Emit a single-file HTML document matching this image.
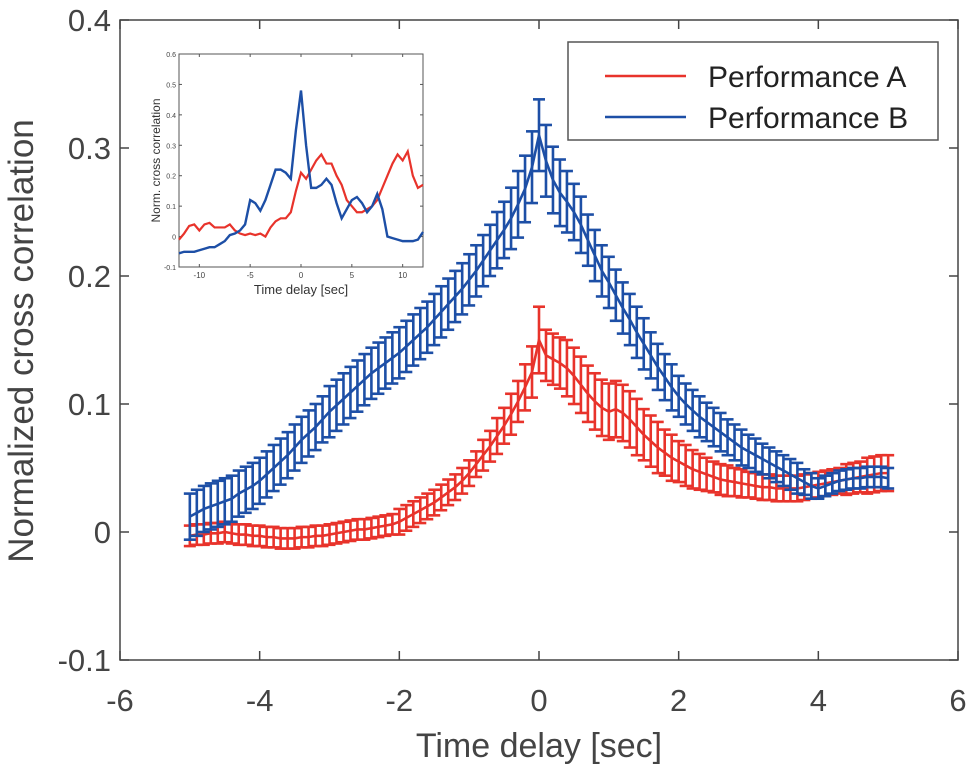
<!DOCTYPE html>
<html><head><meta charset="utf-8"><style>
html,body{margin:0;padding:0;background:#fff;}
svg{display:block;font-family:"Liberation Sans",sans-serif;}
</style></head><body>
<svg id="chart" width="974" height="773" viewBox="0 0 974 773" xmlns="http://www.w3.org/2000/svg"></svg>
<script>
const xTicks=[-6,-4,-2,0,2,4,6];
const yTicks=[-0.1,0,0.1,0.2,0.3,0.4];
const yTickLabels=["-0.1","0","0.1","0.2","0.3","0.4"];
const xStart=-5, xStep=0.1;
const blueMean=[.012,.015,.018,.020,.022,.024,.026,.030,.033,.036,
.040,.045,.050,.055,.060,.066,.072,.077,.082,.088,
.094,.099,.104,.109,.114,.119,.124,.128,.132,.136,
.140,.145,.150,.155,.160,.166,.172,.178,.184,.190,
.197,.204,.212,.220,.228,.236,.245,.256,.268,.285,
.310,.290,.275,.265,.258,.250,.240,.228,.216,.204,
.195,.185,.175,.166,.156,.147,.138,.129,.121,.113,
.106,.100,.095,.090,.086,.082,.078,.074,.070,.066,
.063,.060,.057,.054,.051,.048,.045,.042,.039,.036,
.034,.036,.038,.040,.041,.042,.042,.043,.043,.043,.042];
const blueErr=[.018,.018,.018,.018,.018,.018,.018,.018,.018,.018,
.018,.018,.018,.018,.018,.018,.018,.018,.018,.018,
.02,.02,.02,.02,.02,.02,.02,.02,.02,.02,
.02,.02,.02,.02,.02,.02,.02,.02,.02,.02,
.02,.02,.02,.02,.022,.022,.024,.026,.026,.028,
.028,.028,.026,.026,.024,.022,.022,.02,.02,.02,
.02,.02,.02,.02,.02,.02,.018,.018,.018,.018,
.016,.016,.016,.016,.015,.015,.015,.014,.014,.014,
.013,.013,.012,.012,.012,.012,.012,.012,.01,.01,
.008,.008,.008,.008,.008,.008,.008,.008,.008,.008,.008];
const redMean=[-.003,-.002,-.002,-.001,-.001,0,-.001,-.002,-.002,-.003,
-.003,-.004,-.004,-.005,-.005,-.005,-.004,-.004,-.003,-.003,
-.002,-.001,0,.001,.002,.002,.003,.004,.005,.006,
.008,.011,.014,.017,.020,.023,.027,.031,.035,.040,
.046,.053,.060,.067,.075,.083,.092,.102,.113,.125,
.150,.138,.135,.132,.128,.122,.115,.108,.102,.097,
.094,.096,.093,.088,.082,.076,.071,.066,.062,.058,
.055,.052,.049,.047,.045,.043,.041,.040,.039,.038,
.037,.036,.035,.035,.034,.034,.034,.034,.035,.036,
.037,.038,.039,.040,.041,.042,.043,.044,.045,.046,.046];
const redErr=[.008,.008,.008,.008,.008,.008,.008,.008,.008,.008,
.008,.008,.008,.008,.008,.008,.008,.008,.008,.008,
.008,.008,.008,.008,.008,.008,.008,.008,.008,.008,
.01,.01,.01,.01,.01,.01,.01,.01,.01,.01,
.01,.01,.012,.012,.014,.014,.016,.016,.018,.02,
.026,.02,.02,.02,.022,.022,.022,.022,.022,.022,
.022,.022,.022,.022,.022,.02,.02,.02,.018,.018,
.016,.016,.015,.014,.013,.012,.012,.012,.011,.011,
.01,.01,.01,.01,.01,.01,.01,.01,.01,.01,
.01,.01,.01,.01,.012,.012,.012,.014,.014,.014,.014];
const insetXTicks=[-10,-5,0,5,10];
const insetYTicks=[-0.1,0,0.1,0.2,0.3,0.4,0.5,0.6];
const insetStart=-12, insetStep=0.5;
const insetBlue=[-0.055,-0.05,-0.05,-0.05,-0.045,-0.04,-0.035,-0.035,-0.025,-0.015,0.005,0.01,0.02,0.04,0.12,0.11,0.085,0.12,0.17,0.22,0.22,0.21,0.19,0.35,
0.48,0.3,0.16,0.16,0.17,0.19,0.17,0.11,0.06,0.09,0.12,0.13,0.11,0.08,0.1,0.14,0.09,0.0,-0.005,-0.01,-0.015,-0.015,-0.015,-0.01,0.015];
const insetRed=[-0.01,0.01,0.035,0.04,0.02,0.04,0.045,0.03,0.03,0.03,0.04,0.02,0.01,0.005,0.01,0.005,0.01,0.0,0.03,0.05,0.06,0.06,0.08,0.15,
0.21,0.19,0.22,0.25,0.27,0.24,0.24,0.2,0.17,0.12,0.1,0.08,0.08,0.09,0.1,0.12,0.16,0.2,0.24,0.27,0.25,0.28,0.2,0.16,0.17];

const RED="#e8332b", BLUE="#1d4fa6";
const svg=document.getElementById('chart');
const NS="http://www.w3.org/2000/svg";
function mk(tag,attrs,parent){const e=document.createElementNS(NS,tag);for(const k in attrs)e.setAttribute(k,attrs[k]);(parent||svg).appendChild(e);return e;}
const L=120,R=958,T=20,B=660;
const X=v=>L+(v+6)/12*(R-L);
const Y=v=>B-(v+0.1)/0.5*(B-T);

let box=mk('rect',{x:L,y:T,width:R-L,height:B-T,fill:'none',stroke:'#444','stroke-width':1.5});


xTicks.forEach(t=>{
  mk('line',{x1:X(t),x2:X(t),y1:B,y2:B-9,stroke:'#444','stroke-width':1.5});
  mk('line',{x1:X(t),x2:X(t),y1:T,y2:T+9,stroke:'#444','stroke-width':1.5});
  const tx=mk('text',{x:X(t),y:B+51,'text-anchor':'middle','font-size':31,fill:'#444'});
  tx.textContent=String(t);
  
  
});
yTicks.forEach((t,i)=>{
  mk('line',{x1:L,x2:L+9,y1:Y(t),y2:Y(t),stroke:'#444','stroke-width':1.5});
  mk('line',{x1:R,x2:R-9,y1:Y(t),y2:Y(t),stroke:'#444','stroke-width':1.5});
  const tx=mk('text',{x:L-9,y:Y(t)+11,'text-anchor':'end','font-size':31,fill:'#444'});
  tx.textContent=yTickLabels[i];
  
  
});
let xt=mk('text',{x:539,y:757,'text-anchor':'middle','font-size':34,fill:'#444'});
xt.textContent='Time delay [sec]';


let yt=mk('text',{x:0,y:0,'text-anchor':'middle','font-size':35,fill:'#444',transform:'translate(33,341) rotate(-90)'});
yt.textContent='Normalized cross correlation';



function series(mean,err,color,name){
  const g=mk('g',{});
  
  
  const cap=6;
  mean.forEach((m,i)=>{
    const x=X(xStart+i*xStep);
    const e=err[i];
    mk('line',{x1:x,x2:x,y1:Y(m-e),y2:Y(m+e),stroke:color,'stroke-width':2.6},g);
    mk('line',{x1:x-cap,x2:x+cap,y1:Y(m-e),y2:Y(m-e),stroke:color,'stroke-width':2.6},g);
    mk('line',{x1:x-cap,x2:x+cap,y1:Y(m+e),y2:Y(m+e),stroke:color,'stroke-width':2.6},g);
  });
  const pts=mean.map((m,i)=>X(xStart+i*xStep)+','+Y(m)).join(' ');
  mk('polyline',{points:pts,fill:'none',stroke:color,'stroke-width':2.6},g);
}
series(redMean,redErr,RED,'performance-a-series');
series(blueMean,blueErr,BLUE,'performance-b-series');

const lg=mk('g',{});


mk('rect',{x:568,y:42,width:370,height:98,fill:'#fff',stroke:'#555','stroke-width':1.5},lg);
[[RED,'Performance A',76],[BLUE,'Performance B',117]].forEach(([c,lab,y],i)=>{
  const eg=mk('g',{},lg);
  
  
  mk('line',{x1:605,x2:686,y1:y,y2:y,stroke:c,'stroke-width':2.5},eg);
  const t=mk('text',{x:708,y:y+11,'font-size':30,fill:'#222'},eg);
  t.textContent=lab;
});

const iL=179,iR=423,iT=54,iB=267;
const IX=v=>iL+(v+12)/24*(iR-iL);
const IY=v=>iB-(v+0.1)/0.7*(iB-iT);
const ig=mk('g',{});


mk('rect',{x:iL,y:iT,width:iR-iL,height:iB-iT,fill:'#fff',stroke:'#555','stroke-width':1},ig);
insetXTicks.forEach(t=>{
  mk('line',{x1:IX(t),x2:IX(t),y1:iB,y2:iB-3,stroke:'#555'},ig);
  mk('line',{x1:IX(t),x2:IX(t),y1:iT,y2:iT+3,stroke:'#555'},ig);
  const tx=mk('text',{x:IX(t),y:iB+11,'text-anchor':'middle','font-size':8,fill:'#444'},ig);
  tx.textContent=String(t);
});
insetYTicks.forEach(t=>{
  mk('line',{x1:iL,x2:iL+3,y1:IY(t),y2:IY(t),stroke:'#555'},ig);
  mk('line',{x1:iR,x2:iR-3,y1:IY(t),y2:IY(t),stroke:'#555'},ig);
  const tx=mk('text',{x:iL-3,y:IY(t)+3,'text-anchor':'end','font-size':7,fill:'#444'},ig);
  tx.textContent=(Math.round(t*10)/10).toString();
});
const ixt=mk('text',{x:(iL+iR)/2,y:iB+27,'text-anchor':'middle','font-size':13,fill:'#333'},ig);
ixt.textContent='Time delay [sec]';
const iyt=mk('text',{x:0,y:0,'text-anchor':'middle','font-size':12,fill:'#333',transform:`translate(160,${(iT+iB)/2}) rotate(-90)`},ig);
iyt.textContent='Norm. cross correlation';
const ipR=mk('polyline',{points:insetRed.map((v,i)=>IX(insetStart+i*insetStep)+','+IY(v)).join(' '),fill:'none',stroke:RED,'stroke-width':2.2},ig);


const ipB=mk('polyline',{points:insetBlue.map((v,i)=>IX(insetStart+i*insetStep)+','+IY(v)).join(' '),fill:'none',stroke:BLUE,'stroke-width':2.4},ig);


</script>
</body></html>
